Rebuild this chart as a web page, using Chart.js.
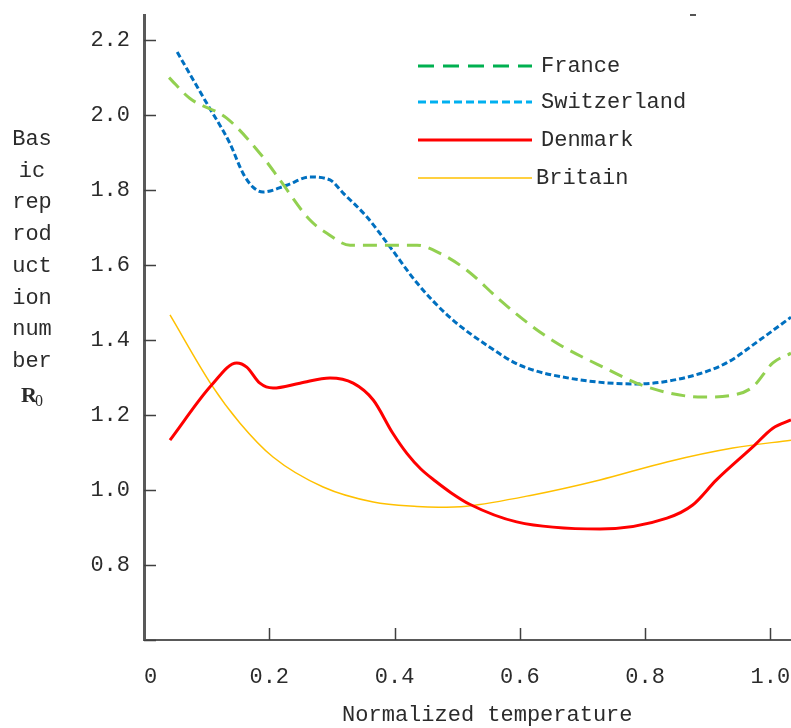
<!DOCTYPE html>
<html>
<head>
<meta charset="utf-8">
<script src="https://cdn.jsdelivr.net/npm/chart.js@4"></script>
<style>
    html, body { margin: 0; padding: 0; background: #fff; }
    #wrap { width: 791px; height: 728px; }
</style>
</head>
<body>
<div id="wrap"><canvas id="r0Chart" width="791" height="728"></canvas></div>
<script>
// tick values and labels
const xTicks = [0, 0.2, 0.4, 0.6, 0.8, 1.0];
const xTickLabels = [" 0", "0.2", "0.4", "0.6", "0.8", "1.0"];
const yTicks = [0.6, 0.8, 1.0, 1.2, 1.4, 1.6, 1.8, 2.0, 2.2];
const yTickLabels = ["", "0.8", "1.0", "1.2", "1.4", "1.6", "1.8", "2.0", "2.2"];
const yTitleLines = ["Bas", "ic", "rep", "rod", "uct", "ion", "num", "ber"];

// series
const franceX = [0.04, 0.073, 0.132, 0.19, 0.217, 0.265, 0.292, 0.329, 0.381, 0.436, 0.472, 0.515, 0.568, 0.621, 0.664, 0.733, 0.803, 0.892, 0.94, 0.972, 1.004, 1.033];
const franceY = [2.10, 2.045, 1.992, 1.888, 1.827, 1.72, 1.685, 1.653, 1.653, 1.653, 1.632, 1.587, 1.507, 1.435, 1.387, 1.328, 1.275, 1.248, 1.253, 1.275, 1.339, 1.365];

const swissX = [0.053, 0.1, 0.137, 0.158, 0.174, 0.19, 0.228, 0.265, 0.297, 0.318, 0.356, 0.393, 0.436, 0.488, 0.552, 0.6, 0.68, 0.787, 0.867, 0.93, 0.983, 1.033];
const swissY = [2.168, 2.032, 1.925, 1.845, 1.808, 1.795, 1.813, 1.835, 1.827, 1.792, 1.728, 1.648, 1.552, 1.461, 1.381, 1.333, 1.298, 1.283, 1.301, 1.339, 1.40, 1.461];

const denmarkX = [0.0415, 0.108, 0.148, 0.164, 0.185, 0.206, 0.249, 0.297, 0.334, 0.366, 0.397, 0.42, 0.442, 0.465, 0.49, 0.52, 0.595, 0.728, 0.835, 0.876, 0.914, 0.972, 1.004, 1.033];
const denmarkY = [1.133, 1.28, 1.339, 1.328, 1.285, 1.272, 1.285, 1.299, 1.285, 1.24, 1.152, 1.097, 1.056, 1.024, 0.993, 0.962, 0.915, 0.896, 0.925, 0.96, 1.027, 1.115, 1.165, 1.187];

const britainX = [0.0415, 0.108, 0.153, 0.206, 0.286, 0.366, 0.436, 0.47, 0.515, 0.621, 0.728, 0.835, 0.94, 1.033];
const britainY = [1.467, 1.28, 1.179, 1.088, 1.008, 0.968, 0.956, 0.954, 0.957, 0.987, 1.027, 1.075, 1.112, 1.133];

const FONT = "'Liberation Mono', 'DejaVu Sans Mono', monospace";
const TEXT = "#2b2b2b";
const AXIS = "#595959";

function toPoints(xs, ys) {
    return xs.map((x, i) => ({ x: x, y: ys[i] }));
}

function noScalePadding(s) {
    s.paddingTop = 0;
    s.paddingBottom = 0;
    s.paddingLeft = 0;
    s.paddingRight = 0;
}

// legend entries (legend swatches use other colours than the lines)
const legendItems = [
    { label: "France", color: "#00b050", dash: [16, 9], width: 3, y: 66, textX: 541 },
    { label: "Switzerland", color: "#00b0f0", dash: [8, 4], width: 3, y: 102, textX: 541 },
    { label: "Denmark", color: "#ff0000", dash: [], width: 3, y: 140, textX: 541 },
    { label: "Britain", color: "#ffc000", dash: [], width: 1.5, y: 178, textX: 536 },
];

const decorPlugin = {
    id: "decor",
    afterDraw(chart) {
        const ctx = chart.ctx;
        const xs = chart.scales.x;
        const ys = chart.scales.y;
        const area = chart.chartArea;
        ctx.save();

        // inward tick marks
        ctx.strokeStyle = "#404040";
        ctx.lineWidth = 1.5;
        ctx.beginPath();
        yTicks.forEach((v) => {
            const py = Math.round(ys.getPixelForValue(v)) + 0.5;
            ctx.moveTo(area.left, py);
            ctx.lineTo(area.left + 12, py);
        });
        xTicks.forEach((v) => {
            if (v === 0) return;
            const px = Math.round(xs.getPixelForValue(v)) + 0.5;
            ctx.moveTo(px, area.bottom);
            ctx.lineTo(px, area.bottom - 12);
        });
        ctx.stroke();

        // y axis title, stacked horizontally
        ctx.fillStyle = TEXT;
        ctx.font = "22px " + FONT;
        ctx.textAlign = "center";
        ctx.textBaseline = "alphabetic";
        yTitleLines.forEach((t, i) => {
            ctx.fillText(t, 32, 145 + i * 31.7);
        });
        ctx.textAlign = "left";
        ctx.font = "bold 22px 'Liberation Serif', serif";
        ctx.fillText("R", 21, 402);
        ctx.font = "16px 'Liberation Serif', serif";
        ctx.fillText("0", 35, 406);

        // legend
        legendItems.forEach((it) => {
            ctx.strokeStyle = it.color;
            ctx.lineWidth = it.width;
            ctx.setLineDash(it.dash);
            ctx.beginPath();
            ctx.moveTo(418, it.y);
            ctx.lineTo(532, it.y);
            ctx.stroke();
            ctx.setLineDash([]);
            ctx.fillStyle = TEXT;
            ctx.font = "22px " + FONT;
            ctx.textBaseline = "middle";
            ctx.fillText(it.label, it.textX, it.y);
        });

        // small stray mark at the top
        ctx.fillStyle = "#555555";
        ctx.fillRect(690, 14, 6, 2);
        ctx.restore();
    },
};

const chart = new Chart(document.getElementById("r0Chart"), {
    type: "line",
    data: {
        datasets: [
            {
                label: "France",
                data: toPoints(franceX, franceY),
                borderColor: "#92d050",
                borderWidth: 3,
                borderDash: [14, 8],
                pointRadius: 0,
                cubicInterpolationMode: "monotone",
                fill: false,
            },
            {
                label: "Switzerland",
                data: toPoints(swissX, swissY),
                borderColor: "#0070c0",
                borderWidth: 3,
                borderDash: [6, 3],
                pointRadius: 0,
                cubicInterpolationMode: "monotone",
                fill: false,
            },
            {
                label: "Denmark",
                data: toPoints(denmarkX, denmarkY),
                borderColor: "#ff0000",
                borderWidth: 3,
                pointRadius: 0,
                cubicInterpolationMode: "monotone",
                fill: false,
            },
            {
                label: "Britain",
                data: toPoints(britainX, britainY),
                borderColor: "#ffc000",
                borderWidth: 1.5,
                pointRadius: 0,
                cubicInterpolationMode: "monotone",
                fill: false,
            },
        ],
    },
    options: {
        responsive: false,
        animation: false,
        devicePixelRatio: 1,
        layout: { padding: { top: 15, right: 0, left: 0, bottom: 0 } },
        plugins: {
            legend: { display: false },
            tooltip: { enabled: false },
        },
        scales: {
            x: {
                type: "linear",
                min: 0,
                max: 1.033,
                afterBuildTicks: (s) => { s.ticks = xTicks.map((v) => ({ value: v })); },
                afterFit: (s) => { s.height = 88; noScalePadding(s); },
                ticks: {
                    callback: (v, i) => xTickLabels[i],
                    color: TEXT,
                    font: { family: FONT, size: 22 },
                    padding: 24,
                    maxRotation: 0,
                    autoSkip: false,
                },
                grid: { display: false, drawTicks: false },
                border: { display: true, color: AXIS, width: 2 },
                title: {
                    display: true,
                    text: "   Normalized temperature",
                    color: TEXT,
                    font: { family: FONT, size: 22 },
                    padding: { top: 0, bottom: 0 },
                },
            },
            y: {
                type: "linear",
                min: 0.6,
                max: 2.267,
                afterBuildTicks: (s) => { s.ticks = yTicks.map((v) => ({ value: v })); },
                afterFit: (s) => { s.width = 144; noScalePadding(s); },
                ticks: {
                    callback: (v, i) => yTickLabels[i],
                    color: TEXT,
                    font: { family: FONT, size: 22 },
                    padding: 14,
                    autoSkip: false,
                },
                grid: { display: false, drawTicks: false },
                border: { display: true, color: AXIS, width: 3 },
            },
        },
    },
    plugins: [decorPlugin],
});
</script>
</body>
</html>
